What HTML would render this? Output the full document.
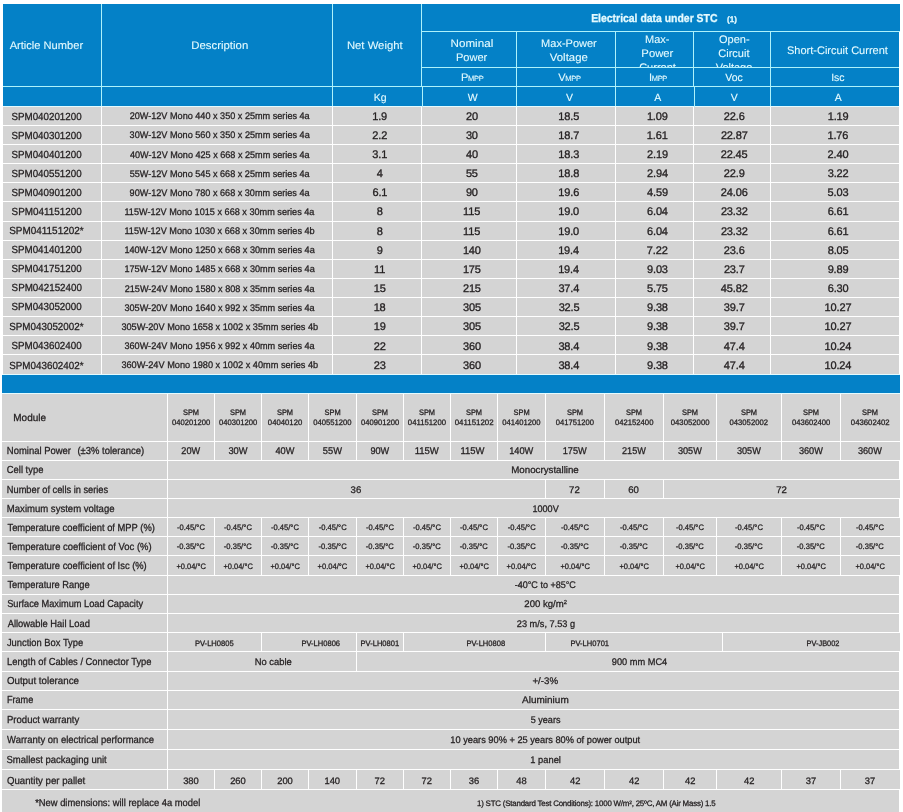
<!DOCTYPE html>
<html lang="en">
<head>
<meta charset="utf-8">
<title>Solar panel specifications</title>
<style>
html,body{margin:0;padding:0;background:#fff}
body{width:903px;height:812px;overflow:hidden;font-family:"Liberation Sans", sans-serif;color:#231f20;text-rendering:geometricPrecision}
#page{position:relative;width:903px;height:812px;overflow:hidden;background:#fff}
.r,.t{position:absolute}
.t{transform-origin:0 0;line-height:20px;white-space:nowrap;-webkit-text-stroke:0.28px currentColor}
.n{-webkit-text-stroke:0.32px currentColor}
.w{-webkit-text-stroke:0.1px currentColor}
.s{-webkit-text-stroke:0.27px currentColor}
.b{-webkit-text-stroke:0.3px currentColor}
.clip{position:absolute;overflow:hidden}
sup{font-size:60%;vertical-align:baseline;position:relative;top:-0.45em;line-height:0}
.sc{font-size:68%}
</style>
</head>
<body>
<div id="page">
<!-- table 1: electrical data under STC -->
<div class="r" style="left:3px;top:4px;width:896px;height:102px;background:#0481c7"></div>
<div class="r" style="left:899px;top:4px;width:1px;height:27px;background:#0481c7"></div>
<div class="r" style="left:3px;top:107px;width:896px;height:267px;background:#d4d4d4"></div>
<div class="r" style="left:2px;top:375px;width:898px;height:18px;background:#0481c7"></div>
<div class="r" style="left:2px;top:394px;width:897px;height:418px;background:#d4d4d4"></div>
<div class="r" style="left:899px;top:394px;width:1px;height:47px;background:#d4d4d4"></div>
<div class="r" style="left:899px;top:442px;width:1px;height:18px;background:#d4d4d4"></div>
<div class="r" style="left:899px;top:480px;width:1px;height:18px;background:#d4d4d4"></div>
<div class="r" style="left:899px;top:518px;width:1px;height:18px;background:#d4d4d4"></div>
<div class="r" style="left:899px;top:537px;width:1px;height:18px;background:#d4d4d4"></div>
<div class="r" style="left:899px;top:556px;width:1px;height:19px;background:#d4d4d4"></div>
<div class="r" style="left:899px;top:633px;width:1px;height:18px;background:#d4d4d4"></div>
<div class="r" style="left:899px;top:770px;width:1px;height:19px;background:#d4d4d4"></div>
<div class="r" style="left:422px;top:31px;width:478px;height:1px;background:#aef2fb"></div>
<div class="r" style="left:422px;top:67px;width:477px;height:1px;background:#aef2fb"></div>
<div class="r" style="left:3px;top:86px;width:896px;height:1px;background:#aef2fb"></div>
<div class="r" style="left:3px;top:106px;width:896px;height:1px;background:#e4fbff"></div>
<div class="r" style="left:3px;top:125px;width:896px;height:1px;background:#fff"></div>
<div class="r" style="left:3px;top:144px;width:896px;height:1px;background:#fff"></div>
<div class="r" style="left:3px;top:163px;width:896px;height:1px;background:#fff"></div>
<div class="r" style="left:3px;top:182px;width:896px;height:1px;background:#fff"></div>
<div class="r" style="left:3px;top:201px;width:896px;height:1px;background:#fff"></div>
<div class="r" style="left:3px;top:221px;width:896px;height:1px;background:#fff"></div>
<div class="r" style="left:3px;top:240px;width:896px;height:1px;background:#fff"></div>
<div class="r" style="left:3px;top:259px;width:896px;height:1px;background:#fff"></div>
<div class="r" style="left:3px;top:278px;width:896px;height:1px;background:#fff"></div>
<div class="r" style="left:3px;top:297px;width:896px;height:1px;background:#fff"></div>
<div class="r" style="left:3px;top:316px;width:896px;height:1px;background:#fff"></div>
<div class="r" style="left:3px;top:335px;width:896px;height:1px;background:#fff"></div>
<div class="r" style="left:3px;top:354px;width:896px;height:1px;background:#fff"></div>
<div class="r" style="left:3px;top:374px;width:897px;height:1px;background:#e4fbff"></div>
<div class="r" style="left:101px;top:4px;width:1px;height:102px;background:#aef2fb"></div>
<div class="r" style="left:101px;top:107px;width:1px;height:267px;background:#fff"></div>
<div class="r" style="left:332px;top:4px;width:1px;height:102px;background:#aef2fb"></div>
<div class="r" style="left:332px;top:107px;width:1px;height:267px;background:#fff"></div>
<div class="r" style="left:421px;top:4px;width:1px;height:82px;background:#aef2fb"></div>
<div class="r" style="left:422px;top:86px;width:1px;height:21px;background:#aef2fb"></div>
<div class="r" style="left:421px;top:107px;width:1px;height:267px;background:#fff"></div>
<div class="r" style="left:516px;top:32px;width:1px;height:74px;background:#aef2fb"></div>
<div class="r" style="left:516px;top:107px;width:1px;height:267px;background:#fff"></div>
<div class="r" style="left:615px;top:32px;width:1px;height:74px;background:#aef2fb"></div>
<div class="r" style="left:615px;top:107px;width:1px;height:267px;background:#fff"></div>
<div class="r" style="left:770px;top:32px;width:1px;height:74px;background:#aef2fb"></div>
<div class="r" style="left:770px;top:107px;width:1px;height:267px;background:#fff"></div>
<div class="r" style="left:693px;top:32px;width:1px;height:54px;background:#aef2fb"></div>
<div class="r" style="left:694px;top:86px;width:1px;height:21px;background:#aef2fb"></div>
<div class="r" style="left:693px;top:107px;width:1px;height:267px;background:#fff"></div>
<div class="r" style="left:2px;top:393px;width:898px;height:1px;background:#e4fbff"></div>
<div class="r" style="left:2px;top:441px;width:897px;height:1px;background:#fff"></div>
<div class="r" style="left:2px;top:460px;width:897px;height:1px;background:#fff"></div>
<div class="r" style="left:2px;top:479px;width:897px;height:1px;background:#fff"></div>
<div class="r" style="left:2px;top:498px;width:897px;height:1px;background:#fff"></div>
<div class="r" style="left:2px;top:517px;width:897px;height:1px;background:#fff"></div>
<div class="r" style="left:2px;top:536px;width:897px;height:1px;background:#fff"></div>
<div class="r" style="left:2px;top:555px;width:897px;height:1px;background:#fff"></div>
<div class="r" style="left:2px;top:575px;width:897px;height:1px;background:#fff"></div>
<div class="r" style="left:2px;top:594px;width:897px;height:1px;background:#fff"></div>
<div class="r" style="left:2px;top:613px;width:897px;height:1px;background:#fff"></div>
<div class="r" style="left:2px;top:632px;width:897px;height:1px;background:#fff"></div>
<div class="r" style="left:2px;top:651px;width:897px;height:1px;background:#fff"></div>
<div class="r" style="left:2px;top:671px;width:897px;height:1px;background:#fff"></div>
<div class="r" style="left:2px;top:690px;width:897px;height:1px;background:#fff"></div>
<div class="r" style="left:2px;top:709px;width:897px;height:1px;background:#fff"></div>
<div class="r" style="left:2px;top:729px;width:897px;height:1px;background:#fff"></div>
<div class="r" style="left:2px;top:749px;width:897px;height:1px;background:#fff"></div>
<div class="r" style="left:2px;top:769px;width:897px;height:1px;background:#fff"></div>
<div class="r" style="left:2px;top:789px;width:897px;height:1px;background:#fff"></div>
<div class="r" style="left:167px;top:394px;width:1px;height:395px;background:#fff"></div>
<div class="r" style="left:214px;top:394px;width:1px;height:66px;background:#fff"></div>
<div class="r" style="left:261px;top:394px;width:1px;height:66px;background:#fff"></div>
<div class="r" style="left:308px;top:394px;width:1px;height:66px;background:#fff"></div>
<div class="r" style="left:356px;top:394px;width:1px;height:66px;background:#fff"></div>
<div class="r" style="left:403px;top:394px;width:1px;height:66px;background:#fff"></div>
<div class="r" style="left:450px;top:394px;width:1px;height:66px;background:#fff"></div>
<div class="r" style="left:497px;top:394px;width:1px;height:66px;background:#fff"></div>
<div class="r" style="left:545px;top:394px;width:1px;height:66px;background:#fff"></div>
<div class="r" style="left:604px;top:394px;width:1px;height:66px;background:#fff"></div>
<div class="r" style="left:663px;top:394px;width:1px;height:66px;background:#fff"></div>
<div class="r" style="left:716px;top:394px;width:1px;height:66px;background:#fff"></div>
<div class="r" style="left:781px;top:394px;width:1px;height:66px;background:#fff"></div>
<div class="r" style="left:840px;top:394px;width:1px;height:66px;background:#fff"></div>
<div class="r" style="left:545px;top:480px;width:1px;height:18px;background:#fff"></div>
<div class="r" style="left:604px;top:480px;width:1px;height:18px;background:#fff"></div>
<div class="r" style="left:663px;top:480px;width:1px;height:18px;background:#fff"></div>
<div class="r" style="left:214px;top:518px;width:1px;height:57px;background:#fff"></div>
<div class="r" style="left:261px;top:518px;width:1px;height:57px;background:#fff"></div>
<div class="r" style="left:308px;top:518px;width:1px;height:57px;background:#fff"></div>
<div class="r" style="left:356px;top:518px;width:1px;height:57px;background:#fff"></div>
<div class="r" style="left:403px;top:518px;width:1px;height:57px;background:#fff"></div>
<div class="r" style="left:450px;top:518px;width:1px;height:57px;background:#fff"></div>
<div class="r" style="left:497px;top:518px;width:1px;height:57px;background:#fff"></div>
<div class="r" style="left:545px;top:518px;width:1px;height:57px;background:#fff"></div>
<div class="r" style="left:604px;top:518px;width:1px;height:57px;background:#fff"></div>
<div class="r" style="left:663px;top:518px;width:1px;height:57px;background:#fff"></div>
<div class="r" style="left:716px;top:518px;width:1px;height:57px;background:#fff"></div>
<div class="r" style="left:781px;top:518px;width:1px;height:57px;background:#fff"></div>
<div class="r" style="left:840px;top:518px;width:1px;height:57px;background:#fff"></div>
<div class="r" style="left:261px;top:633px;width:1px;height:18px;background:#fff"></div>
<div class="r" style="left:356px;top:633px;width:1px;height:18px;background:#fff"></div>
<div class="r" style="left:403px;top:633px;width:1px;height:18px;background:#fff"></div>
<div class="r" style="left:545px;top:633px;width:1px;height:18px;background:#fff"></div>
<div class="r" style="left:722px;top:633px;width:1px;height:18px;background:#fff"></div>
<div class="r" style="left:356px;top:652px;width:1px;height:19px;background:#fff"></div>
<div class="r" style="left:214px;top:770px;width:1px;height:19px;background:#fff"></div>
<div class="r" style="left:261px;top:770px;width:1px;height:19px;background:#fff"></div>
<div class="r" style="left:308px;top:770px;width:1px;height:19px;background:#fff"></div>
<div class="r" style="left:356px;top:770px;width:1px;height:19px;background:#fff"></div>
<div class="r" style="left:403px;top:770px;width:1px;height:19px;background:#fff"></div>
<div class="r" style="left:450px;top:770px;width:1px;height:19px;background:#fff"></div>
<div class="r" style="left:497px;top:770px;width:1px;height:19px;background:#fff"></div>
<div class="r" style="left:545px;top:770px;width:1px;height:19px;background:#fff"></div>
<div class="r" style="left:604px;top:770px;width:1px;height:19px;background:#fff"></div>
<div class="r" style="left:663px;top:770px;width:1px;height:19px;background:#fff"></div>
<div class="r" style="left:716px;top:770px;width:1px;height:19px;background:#fff"></div>
<div class="r" style="left:781px;top:770px;width:1px;height:19px;background:#fff"></div>
<div class="r" style="left:840px;top:770px;width:1px;height:19px;background:#fff"></div>
<div class="t w" style="left:9px;top:36px;font-size:11.0px;color:#e4faff;transform:translateX(0.65px) scaleX(1.0094)">Article Number</div>
<div class="t w" style="left:191px;top:36px;font-size:11.0px;color:#e4faff;transform:translateX(0.29px) scaleX(1.0345)">Description</div>
<div class="t w" style="left:346px;top:36px;font-size:11.0px;color:#e4faff;transform:translateX(0.92px) scaleX(1.0270)">Net Weight</div>
<div class="t b" style="left:591px;top:9px;font-size:11.5px;color:#e4faff;font-weight:bold;transform:translateX(0.16px) scaleX(0.9064)">Electrical data under STC</div>
<div class="t b" style="left:727px;top:10px;font-size:8.0px;color:#e4faff;font-weight:bold;transform:translateX(0.03px) scaleX(1.0037)">(1)</div>
<div class="t w" style="left:450px;top:34px;font-size:11.0px;color:#e4faff;transform:translateX(0.54px) scaleX(1.0577)">Nominal</div>
<div class="t w" style="left:455px;top:48px;font-size:11.0px;color:#e4faff;transform:translateX(0.95px) scaleX(1.0048)">Power</div>
<div class="t w" style="left:541.12px;top:34px;font-size:11.0px;color:#e4faff">Max-Power</div>
<div class="t w" style="left:549px;top:48px;font-size:11.0px;color:#e4faff;transform:translateX(0.80px) scaleX(1.0352)">Voltage</div>
<div class="t w" style="left:787.00px;top:41px;font-size:11.0px;color:#e4faff">Short-Circuit Current</div>
<div class="clip" style="left:616px;top:32px;width:77px;height:35px">
<div class="t w" style="left:29.08px;top:-2px;font-size:11.0px;color:#e4faff">Max-</div>
<div class="t w" style="left:25px;top:12px;font-size:11.0px;color:#e4faff;transform:translateX(0.35px) scaleX(1.0261)">Power</div>
<div class="t w" style="left:23.16px;top:26px;font-size:11.0px;color:#e4faff">Current</div>
</div>
<div class="clip" style="left:694px;top:32px;width:76px;height:35px">
<div class="t w" style="left:24.98px;top:-2px;font-size:11.0px;color:#e4faff">Open-</div>
<div class="t w" style="left:24.27px;top:12px;font-size:11.0px;color:#e4faff">Circuit</div>
<div class="t w" style="left:21.66px;top:26px;font-size:11.0px;color:#e4faff">Voltage</div>
</div>
<div class="t w" style="left:461.00px;top:68px;font-size:11.0px;color:#e4faff;letter-spacing:-0.3px">P<span class="sc">MPP</span></div>
<div class="t w" style="left:558.30px;top:68px;font-size:11.0px;color:#e4faff;letter-spacing:-0.3px">V<span class="sc">MPP</span></div>
<div class="t w" style="left:649.00px;top:68px;font-size:11.0px;color:#e4faff;letter-spacing:-0.3px">I<span class="sc">MPP</span></div>
<div class="t w" style="left:725.25px;top:68px;font-size:10.5px;color:#e4faff">Voc</div>
<div class="t w" style="left:831.13px;top:68px;font-size:10.5px;color:#e4faff">Isc</div>
<div class="t w" style="left:373.86px;top:88px;font-size:10.5px;color:#e4faff">Kg</div>
<div class="t w" style="left:467.81px;top:88px;font-size:10.5px;color:#e4faff">W</div>
<div class="t w" style="left:566.01px;top:88px;font-size:10.5px;color:#e4faff">V</div>
<div class="t w" style="left:654.26px;top:88px;font-size:10.5px;color:#e4faff">A</div>
<div class="t w" style="left:730.79px;top:88px;font-size:10.5px;color:#e4faff">V</div>
<div class="t w" style="left:834.76px;top:88px;font-size:10.5px;color:#e4faff">A</div>
<div class="t" style="left:11px;top:108px;font-size:10.3px;transform:translateX(0.44px) scaleX(0.9497)">SPM040201200</div>
<div class="t" style="left:129px;top:107px;font-size:9.5px;transform:translateX(0.65px) scaleX(0.9586)">20W-12V Mono 440 x 350 x 25mm series 4a</div>
<div class="t n" style="left:372.26px;top:107px;font-size:11.0px;letter-spacing:-0.15px">1.9</div>
<div class="t n" style="left:465.96px;top:107px;font-size:11.0px;letter-spacing:-0.15px">20</div>
<div class="t n" style="left:558.35px;top:107px;font-size:11.0px;letter-spacing:-0.15px">18.5</div>
<div class="t n" style="left:646.88px;top:107px;font-size:11.0px;letter-spacing:-0.15px">1.09</div>
<div class="t n" style="left:723.83px;top:107px;font-size:11.0px;letter-spacing:-0.15px">22.6</div>
<div class="t n" style="left:827.69px;top:107px;font-size:11.0px;letter-spacing:-0.15px">1.19</div>
<div class="t" style="left:11px;top:127px;font-size:10.3px;transform:translateX(0.44px) scaleX(0.9497)">SPM040301200</div>
<div class="t" style="left:129px;top:126px;font-size:9.5px;transform:translateX(0.59px) scaleX(0.9591)">30W-12V Mono 560 x 350 x 25mm series 4a</div>
<div class="t n" style="left:372.28px;top:126px;font-size:11.0px;letter-spacing:-0.15px">2.2</div>
<div class="t n" style="left:465.89px;top:126px;font-size:11.0px;letter-spacing:-0.15px">30</div>
<div class="t n" style="left:558.36px;top:126px;font-size:11.0px;letter-spacing:-0.15px">18.7</div>
<div class="t n" style="left:646.83px;top:126px;font-size:11.0px;letter-spacing:-0.15px">1.61</div>
<div class="t n" style="left:720.89px;top:126px;font-size:11.0px;letter-spacing:-0.15px">22.87</div>
<div class="t n" style="left:827.48px;top:126px;font-size:11.0px;letter-spacing:-0.15px">1.76</div>
<div class="t" style="left:11px;top:146px;font-size:10.3px;transform:translateX(0.44px) scaleX(0.9497)">SPM040401200</div>
<div class="t" style="left:129px;top:146px;font-size:9.5px;transform:translateX(0.99px) scaleX(0.9563)">40W-12V Mono 425 x 668 x 25mm series 4a</div>
<div class="t n" style="left:372.35px;top:145px;font-size:11.0px;letter-spacing:-0.15px">3.1</div>
<div class="t n" style="left:465.97px;top:145px;font-size:11.0px;letter-spacing:-0.15px">40</div>
<div class="t n" style="left:558.34px;top:145px;font-size:11.0px;letter-spacing:-0.15px">18.3</div>
<div class="t n" style="left:647.10px;top:145px;font-size:11.0px;letter-spacing:-0.15px">2.19</div>
<div class="t n" style="left:720.77px;top:145px;font-size:11.0px;letter-spacing:-0.15px">22.45</div>
<div class="t n" style="left:827.57px;top:145px;font-size:11.0px;letter-spacing:-0.15px">2.40</div>
<div class="t" style="left:11px;top:165px;font-size:10.3px;transform:translateX(0.44px) scaleX(0.9497)">SPM040551200</div>
<div class="t" style="left:129px;top:165px;font-size:9.5px;transform:translateX(0.65px) scaleX(0.9581)">55W-12V Mono 545 x 668 x 25mm series 4a</div>
<div class="t n" style="left:376.82px;top:164px;font-size:11.0px;letter-spacing:-0.15px">4</div>
<div class="t n" style="left:465.88px;top:164px;font-size:11.0px;letter-spacing:-0.15px">55</div>
<div class="t n" style="left:558.37px;top:164px;font-size:11.0px;letter-spacing:-0.15px">18.8</div>
<div class="t n" style="left:647.05px;top:164px;font-size:11.0px;letter-spacing:-0.15px">2.94</div>
<div class="t n" style="left:723.80px;top:164px;font-size:11.0px;letter-spacing:-0.15px">22.9</div>
<div class="t n" style="left:827.73px;top:164px;font-size:11.0px;letter-spacing:-0.15px">3.22</div>
<div class="t" style="left:11px;top:184px;font-size:10.3px;transform:translateX(0.44px) scaleX(0.9497)">SPM040901200</div>
<div class="t" style="left:129px;top:184px;font-size:9.5px;transform:translateX(0.58px) scaleX(0.9584)">90W-12V Mono 780 x 668 x 30mm series 4a</div>
<div class="t n" style="left:372.49px;top:183px;font-size:11.0px;letter-spacing:-0.15px">6.1</div>
<div class="t n" style="left:465.90px;top:183px;font-size:11.0px;letter-spacing:-0.15px">90</div>
<div class="t n" style="left:558.36px;top:183px;font-size:11.0px;letter-spacing:-0.15px">19.6</div>
<div class="t n" style="left:647.12px;top:183px;font-size:11.0px;letter-spacing:-0.15px">4.59</div>
<div class="t n" style="left:720.86px;top:183px;font-size:11.0px;letter-spacing:-0.15px">24.06</div>
<div class="t n" style="left:827.61px;top:183px;font-size:11.0px;letter-spacing:-0.15px">5.03</div>
<div class="t" style="left:11px;top:203px;font-size:10.3px;transform:translateX(0.54px) scaleX(0.9597)">SPM041151200</div>
<div class="t" style="left:124px;top:203px;font-size:9.5px;transform:translateX(0.40px) scaleX(0.9611)">115W-12V Mono 1015 x 668 x 30mm series 4a</div>
<div class="t n" style="left:376.75px;top:202px;font-size:11.0px;letter-spacing:-0.15px">8</div>
<div class="t n" style="left:463.12px;top:202px;font-size:11.0px;letter-spacing:-0.15px">115</div>
<div class="t n" style="left:558.28px;top:202px;font-size:11.0px;letter-spacing:-0.15px">19.0</div>
<div class="t n" style="left:647.03px;top:202px;font-size:11.0px;letter-spacing:-0.15px">6.04</div>
<div class="t n" style="left:720.88px;top:202px;font-size:11.0px;letter-spacing:-0.15px">23.32</div>
<div class="t n" style="left:827.63px;top:202px;font-size:11.0px;letter-spacing:-0.15px">6.61</div>
<div class="t" style="left:9px;top:222px;font-size:10.3px;transform:translateX(0.20px) scaleX(0.9655)">SPM041151202*</div>
<div class="t" style="left:124px;top:222px;font-size:9.5px;transform:translateX(0.40px) scaleX(0.9625)">115W-12V Mono 1030 x 668 x 30mm series 4b</div>
<div class="t n" style="left:376.75px;top:222px;font-size:11.0px;letter-spacing:-0.15px">8</div>
<div class="t n" style="left:463.12px;top:222px;font-size:11.0px;letter-spacing:-0.15px">115</div>
<div class="t n" style="left:558.28px;top:222px;font-size:11.0px;letter-spacing:-0.15px">19.0</div>
<div class="t n" style="left:647.03px;top:222px;font-size:11.0px;letter-spacing:-0.15px">6.04</div>
<div class="t n" style="left:720.88px;top:222px;font-size:11.0px;letter-spacing:-0.15px">23.32</div>
<div class="t n" style="left:827.63px;top:222px;font-size:11.0px;letter-spacing:-0.15px">6.61</div>
<div class="t" style="left:11px;top:241px;font-size:10.3px;transform:translateX(0.44px) scaleX(0.9497)">SPM041401200</div>
<div class="t" style="left:124px;top:241px;font-size:9.5px;transform:translateX(0.39px) scaleX(0.9596)">140W-12V Mono 1250 x 668 x 30mm series 4a</div>
<div class="t n" style="left:376.83px;top:241px;font-size:11.0px;letter-spacing:-0.15px">9</div>
<div class="t n" style="left:462.88px;top:241px;font-size:11.0px;letter-spacing:-0.15px">140</div>
<div class="t n" style="left:558.15px;top:241px;font-size:11.0px;letter-spacing:-0.15px">19.4</div>
<div class="t n" style="left:646.87px;top:241px;font-size:11.0px;letter-spacing:-0.15px">7.22</div>
<div class="t n" style="left:723.83px;top:241px;font-size:11.0px;letter-spacing:-0.15px">23.6</div>
<div class="t n" style="left:827.70px;top:241px;font-size:11.0px;letter-spacing:-0.15px">8.05</div>
<div class="t" style="left:11px;top:260px;font-size:10.3px;transform:translateX(0.44px) scaleX(0.9497)">SPM041751200</div>
<div class="t" style="left:124px;top:260px;font-size:9.5px;transform:translateX(0.39px) scaleX(0.9596)">175W-12V Mono 1485 x 668 x 30mm series 4a</div>
<div class="t n" style="left:374.12px;top:260px;font-size:11.0px;letter-spacing:-0.15px">11</div>
<div class="t n" style="left:462.88px;top:260px;font-size:11.0px;letter-spacing:-0.15px">175</div>
<div class="t n" style="left:558.15px;top:260px;font-size:11.0px;letter-spacing:-0.15px">19.4</div>
<div class="t n" style="left:647.04px;top:260px;font-size:11.0px;letter-spacing:-0.15px">9.03</div>
<div class="t n" style="left:723.89px;top:260px;font-size:11.0px;letter-spacing:-0.15px">23.7</div>
<div class="t n" style="left:827.67px;top:260px;font-size:11.0px;letter-spacing:-0.15px">9.89</div>
<div class="t" style="left:11px;top:279px;font-size:10.3px;transform:translateX(0.59px) scaleX(0.9517)">SPM042152400</div>
<div class="t" style="left:124px;top:280px;font-size:9.5px;transform:translateX(0.75px) scaleX(0.9572)">215W-24V Mono 1580 x 808 x 35mm series 4a</div>
<div class="t n" style="left:373.71px;top:279px;font-size:11.0px;letter-spacing:-0.15px">15</div>
<div class="t n" style="left:462.95px;top:279px;font-size:11.0px;letter-spacing:-0.15px">215</div>
<div class="t n" style="left:558.38px;top:279px;font-size:11.0px;letter-spacing:-0.15px">37.4</div>
<div class="t n" style="left:647.03px;top:279px;font-size:11.0px;letter-spacing:-0.15px">5.75</div>
<div class="t n" style="left:720.87px;top:279px;font-size:11.0px;letter-spacing:-0.15px">45.82</div>
<div class="t n" style="left:827.74px;top:279px;font-size:11.0px;letter-spacing:-0.15px">6.30</div>
<div class="t" style="left:11px;top:298px;font-size:10.3px;transform:translateX(0.44px) scaleX(0.9501)">SPM043052000</div>
<div class="t" style="left:124px;top:299px;font-size:9.5px;transform:translateX(0.49px) scaleX(0.9587)">305W-20V Mono 1640 x 992 x 35mm series 4a</div>
<div class="t n" style="left:373.66px;top:298px;font-size:11.0px;letter-spacing:-0.15px">18</div>
<div class="t n" style="left:462.99px;top:298px;font-size:11.0px;letter-spacing:-0.15px">305</div>
<div class="t n" style="left:558.63px;top:298px;font-size:11.0px;letter-spacing:-0.15px">32.5</div>
<div class="t n" style="left:647.04px;top:298px;font-size:11.0px;letter-spacing:-0.15px">9.38</div>
<div class="t n" style="left:723.87px;top:298px;font-size:11.0px;letter-spacing:-0.15px">39.7</div>
<div class="t n" style="left:824.61px;top:298px;font-size:11.0px;letter-spacing:-0.15px">10.27</div>
<div class="t" style="left:9px;top:318px;font-size:10.3px;transform:translateX(0.24px) scaleX(0.9542)">SPM043052002*</div>
<div class="t" style="left:121px;top:318px;font-size:9.5px;transform:translateX(0.39px) scaleX(0.9662)">305W-20V Mono 1658 x 1002 x 35mm series 4b</div>
<div class="t n" style="left:373.69px;top:317px;font-size:11.0px;letter-spacing:-0.15px">19</div>
<div class="t n" style="left:462.99px;top:317px;font-size:11.0px;letter-spacing:-0.15px">305</div>
<div class="t n" style="left:558.63px;top:317px;font-size:11.0px;letter-spacing:-0.15px">32.5</div>
<div class="t n" style="left:647.04px;top:317px;font-size:11.0px;letter-spacing:-0.15px">9.38</div>
<div class="t n" style="left:723.87px;top:317px;font-size:11.0px;letter-spacing:-0.15px">39.7</div>
<div class="t n" style="left:824.61px;top:317px;font-size:11.0px;letter-spacing:-0.15px">10.27</div>
<div class="t" style="left:11px;top:337px;font-size:10.3px;transform:translateX(0.44px) scaleX(0.9501)">SPM043602400</div>
<div class="t" style="left:124px;top:337px;font-size:9.5px;transform:translateX(0.49px) scaleX(0.9587)">360W-24V Mono 1956 x 992 x 40mm series 4a</div>
<div class="t n" style="left:373.86px;top:337px;font-size:11.0px;letter-spacing:-0.15px">22</div>
<div class="t n" style="left:462.97px;top:337px;font-size:11.0px;letter-spacing:-0.15px">360</div>
<div class="t n" style="left:558.38px;top:337px;font-size:11.0px;letter-spacing:-0.15px">38.4</div>
<div class="t n" style="left:647.04px;top:337px;font-size:11.0px;letter-spacing:-0.15px">9.38</div>
<div class="t n" style="left:723.81px;top:337px;font-size:11.0px;letter-spacing:-0.15px">47.4</div>
<div class="t n" style="left:824.52px;top:337px;font-size:11.0px;letter-spacing:-0.15px">10.24</div>
<div class="t" style="left:9px;top:357px;font-size:10.3px;transform:translateX(0.24px) scaleX(0.9542)">SPM043602402*</div>
<div class="t" style="left:121px;top:356px;font-size:9.5px;transform:translateX(0.39px) scaleX(0.9662)">360W-24V Mono 1980 x 1002 x 40mm series 4b</div>
<div class="t n" style="left:373.86px;top:356px;font-size:11.0px;letter-spacing:-0.15px">23</div>
<div class="t n" style="left:462.97px;top:356px;font-size:11.0px;letter-spacing:-0.15px">360</div>
<div class="t n" style="left:558.38px;top:356px;font-size:11.0px;letter-spacing:-0.15px">38.4</div>
<div class="t n" style="left:647.04px;top:356px;font-size:11.0px;letter-spacing:-0.15px">9.38</div>
<div class="t n" style="left:723.81px;top:356px;font-size:11.0px;letter-spacing:-0.15px">47.4</div>
<div class="t n" style="left:824.52px;top:356px;font-size:11.0px;letter-spacing:-0.15px">10.24</div>
<!-- table 2: module specifications -->
<div class="t" style="left:13px;top:409px;font-size:10.2px;transform:translateX(0.31px) scaleX(0.9782)">Module</div>
<div class="t" style="left:6px;top:442px;font-size:10.2px;transform:translateX(0.87px) scaleX(0.9281)">Nominal Power</div>
<div class="t" style="left:77px;top:442px;font-size:10.2px;transform:translateX(0.39px) scaleX(0.9288)">(±3% tolerance)</div>
<div class="t" style="left:6px;top:461px;font-size:10.2px;transform:translateX(0.81px) scaleX(0.9221)">Cell type</div>
<div class="t" style="left:6px;top:481px;font-size:10.2px;transform:translateX(0.81px) scaleX(0.9084)">Number of cells in series</div>
<div class="t" style="left:6px;top:500px;font-size:10.2px;transform:translateX(0.85px) scaleX(0.9371)">Maximum system voltage</div>
<div class="t" style="left:7px;top:519px;font-size:10.2px;transform:translateX(0.46px) scaleX(0.9185)">Temperature coefficient of MPP (%)</div>
<div class="t" style="left:7px;top:538px;font-size:10.2px;transform:translateX(0.38px) scaleX(0.9271)">Temperature coefficient of Voc (%)</div>
<div class="t" style="left:7px;top:557px;font-size:10.2px;transform:translateX(0.49px) scaleX(0.9188)">Temperature coefficient of Isc (%)</div>
<div class="t" style="left:7px;top:576px;font-size:10.2px;transform:translateX(0.43px) scaleX(0.9140)">Temperature Range</div>
<div class="t" style="left:7px;top:595px;font-size:10.2px;transform:translateX(0.13px) scaleX(0.9061)">Surface Maximum Load Capacity</div>
<div class="t" style="left:7px;top:615px;font-size:10.2px;transform:translateX(0.63px) scaleX(0.9194)">Allowable Hail Load</div>
<div class="t" style="left:6px;top:634px;font-size:10.2px;transform:translateX(0.94px) scaleX(0.9179)">Junction Box Type</div>
<div class="t" style="left:6px;top:653px;font-size:10.2px;transform:translateX(0.97px) scaleX(0.9193)">Length of Cables / Connector Type</div>
<div class="t" style="left:6px;top:672px;font-size:10.2px;transform:translateX(0.92px) scaleX(0.9558)">Output tolerance</div>
<div class="t" style="left:6px;top:691px;font-size:10.2px;transform:translateX(0.91px) scaleX(0.8936)">Frame</div>
<div class="t" style="left:6px;top:711px;font-size:10.2px;transform:translateX(0.99px) scaleX(0.9379)">Product warranty</div>
<div class="t" style="left:7px;top:731px;font-size:10.2px;transform:translateX(0.12px) scaleX(0.9289)">Warranty on electrical performance</div>
<div class="t" style="left:6px;top:751px;font-size:10.2px;transform:translateX(0.54px) scaleX(0.9307)">Smallest packaging unit</div>
<div class="t" style="left:6px;top:772px;font-size:10.2px;transform:translateX(0.98px) scaleX(0.9463)">Quantity per pallet</div>
<div class="t s" style="left:182px;top:403px;font-size:7.9px;transform:translateX(0.92px) scaleX(0.9429)">SPM</div>
<div class="t s" style="left:171px;top:413px;font-size:7.9px;transform:translateX(0.95px) scaleX(0.9696)">040201200</div>
<div class="t s" style="left:229px;top:403px;font-size:7.9px;transform:translateX(0.92px) scaleX(0.9429)">SPM</div>
<div class="t s" style="left:218px;top:413px;font-size:7.9px;transform:translateX(0.92px) scaleX(0.9701)">040301200</div>
<div class="t s" style="left:276px;top:403px;font-size:7.9px;transform:translateX(0.92px) scaleX(0.9429)">SPM</div>
<div class="t s" style="left:267px;top:413px;font-size:7.9px;transform:translateX(0.86px) scaleX(0.9802)">04040120</div>
<div class="t s" style="left:324px;top:403px;font-size:7.9px;transform:translateX(0.58px) scaleX(0.9459)">SPM</div>
<div class="t s" style="left:313px;top:413px;font-size:7.9px;transform:translateX(0.31px) scaleX(0.9696)">040551200</div>
<div class="t s" style="left:371px;top:403px;font-size:7.9px;transform:translateX(0.92px) scaleX(0.9429)">SPM</div>
<div class="t s" style="left:360px;top:413px;font-size:7.9px;transform:translateX(0.92px) scaleX(0.9701)">040901200</div>
<div class="t s" style="left:418px;top:403px;font-size:7.9px;transform:translateX(0.92px) scaleX(0.9429)">SPM</div>
<div class="t s" style="left:407px;top:413px;font-size:7.9px;transform:translateX(0.82px) scaleX(0.9826)">041151200</div>
<div class="t s" style="left:465px;top:403px;font-size:7.9px;transform:translateX(0.92px) scaleX(0.9429)">SPM</div>
<div class="t s" style="left:454.73px;top:413px;font-size:7.9px">041151202</div>
<div class="t s" style="left:513px;top:403px;font-size:7.9px;transform:translateX(0.58px) scaleX(0.9459)">SPM</div>
<div class="t s" style="left:502px;top:413px;font-size:7.9px;transform:translateX(0.28px) scaleX(0.9701)">041401200</div>
<div class="t s" style="left:566px;top:403px;font-size:7.9px;transform:translateX(0.92px) scaleX(0.9429)">SPM</div>
<div class="t s" style="left:555px;top:413px;font-size:7.9px;transform:translateX(0.82px) scaleX(0.9635)">041751200</div>
<div class="t s" style="left:625px;top:403px;font-size:7.9px;transform:translateX(0.92px) scaleX(0.9429)">SPM</div>
<div class="t s" style="left:614px;top:413px;font-size:7.9px;transform:translateX(0.89px) scaleX(0.9760)">042152400</div>
<div class="t s" style="left:681px;top:403px;font-size:7.9px;transform:translateX(0.92px) scaleX(0.9429)">SPM</div>
<div class="t s" style="left:670px;top:413px;font-size:7.9px;transform:translateX(0.75px) scaleX(0.9813)">043052000</div>
<div class="t s" style="left:740px;top:403px;font-size:7.9px;transform:translateX(0.92px) scaleX(0.9429)">SPM</div>
<div class="t s" style="left:729px;top:413px;font-size:7.9px;transform:translateX(0.51px) scaleX(0.9748)">043052002</div>
<div class="t s" style="left:802px;top:403px;font-size:7.9px;transform:translateX(0.92px) scaleX(0.9429)">SPM</div>
<div class="t s" style="left:791px;top:413px;font-size:7.9px;transform:translateX(0.96px) scaleX(0.9674)">043602400</div>
<div class="t s" style="left:861px;top:403px;font-size:7.9px;transform:translateX(0.92px) scaleX(0.9429)">SPM</div>
<div class="t s" style="left:850px;top:413px;font-size:7.9px;transform:translateX(0.87px) scaleX(0.9822)">043602402</div>
<div class="t" style="left:181px;top:442px;font-size:9.7px;transform:translateX(0.37px) scaleX(0.9433)">20W</div>
<div class="t" style="left:228px;top:442px;font-size:9.7px;transform:translateX(0.41px) scaleX(0.9576)">30W</div>
<div class="t" style="left:275px;top:442px;font-size:9.7px;transform:translateX(0.49px) scaleX(0.9482)">40W</div>
<div class="t" style="left:322px;top:442px;font-size:9.7px;transform:translateX(0.80px) scaleX(0.9613)">55W</div>
<div class="t" style="left:370px;top:442px;font-size:9.7px;transform:translateX(0.43px) scaleX(0.9432)">90W</div>
<div class="t" style="left:414px;top:442px;font-size:9.7px;transform:translateX(0.65px) scaleX(0.9841)">115W</div>
<div class="t" style="left:460px;top:442px;font-size:9.7px;transform:translateX(0.44px) scaleX(0.9754)">115W</div>
<div class="t" style="left:509px;top:442px;font-size:9.7px;transform:translateX(0.14px) scaleX(0.9559)">140W</div>
<div class="t" style="left:562px;top:442px;font-size:9.7px;transform:translateX(0.64px) scaleX(0.9543)">175W</div>
<div class="t" style="left:621px;top:442px;font-size:9.7px;transform:translateX(0.96px) scaleX(0.9436)">215W</div>
<div class="t" style="left:677px;top:442px;font-size:9.7px;transform:translateX(0.93px) scaleX(0.9442)">305W</div>
<div class="t" style="left:736px;top:442px;font-size:9.7px;transform:translateX(0.93px) scaleX(0.9442)">305W</div>
<div class="t" style="left:798px;top:442px;font-size:9.7px;transform:translateX(0.94px) scaleX(0.9442)">360W</div>
<div class="t" style="left:857px;top:442px;font-size:9.7px;transform:translateX(0.94px) scaleX(0.9442)">360W</div>
<div class="t" style="left:511px;top:461px;font-size:9.6px;transform:translateX(0.23px) scaleX(1.0135)">Monocrystalline</div>
<div class="t" style="left:350.57px;top:481px;font-size:9.6px">36</div>
<div class="t" style="left:569.12px;top:481px;font-size:9.6px">72</div>
<div class="t" style="left:628.29px;top:481px;font-size:9.6px">60</div>
<div class="t" style="left:776.26px;top:481px;font-size:9.6px">72</div>
<div class="t" style="left:532px;top:500px;font-size:9.6px;transform:translateX(0.44px) scaleX(0.9459)">1000V</div>
<div class="t s" style="left:176px;top:518px;font-size:7.9px;transform:translateX(0.94px) scaleX(0.9629)">-0.45/°C</div>
<div class="t s" style="left:176px;top:537px;font-size:7.9px;transform:translateX(0.79px) scaleX(0.9624)">-0.35/°C</div>
<div class="t s" style="left:176px;top:557px;font-size:7.9px;transform:translateX(0.38px) scaleX(0.9497)">+0.04/°C</div>
<div class="t s" style="left:223px;top:518px;font-size:7.9px;transform:translateX(0.94px) scaleX(0.9629)">-0.45/°C</div>
<div class="t s" style="left:223px;top:537px;font-size:7.9px;transform:translateX(0.79px) scaleX(0.9624)">-0.35/°C</div>
<div class="t s" style="left:223px;top:557px;font-size:7.9px;transform:translateX(0.38px) scaleX(0.9497)">+0.04/°C</div>
<div class="t s" style="left:270px;top:518px;font-size:7.9px;transform:translateX(0.94px) scaleX(0.9629)">-0.45/°C</div>
<div class="t s" style="left:270px;top:537px;font-size:7.9px;transform:translateX(0.79px) scaleX(0.9624)">-0.35/°C</div>
<div class="t s" style="left:270px;top:557px;font-size:7.9px;transform:translateX(0.38px) scaleX(0.9497)">+0.04/°C</div>
<div class="t s" style="left:318px;top:518px;font-size:7.9px;transform:translateX(0.78px) scaleX(0.9586)">-0.45/°C</div>
<div class="t s" style="left:318px;top:537px;font-size:7.9px;transform:translateX(0.57px) scaleX(0.9679)">-0.35/°C</div>
<div class="t s" style="left:317px;top:557px;font-size:7.9px;transform:translateX(0.60px) scaleX(0.9564)">+0.04/°C</div>
<div class="t s" style="left:365px;top:518px;font-size:7.9px;transform:translateX(0.94px) scaleX(0.9629)">-0.45/°C</div>
<div class="t s" style="left:365px;top:537px;font-size:7.9px;transform:translateX(0.79px) scaleX(0.9624)">-0.35/°C</div>
<div class="t s" style="left:365px;top:557px;font-size:7.9px;transform:translateX(0.38px) scaleX(0.9497)">+0.04/°C</div>
<div class="t s" style="left:412px;top:518px;font-size:7.9px;transform:translateX(0.94px) scaleX(0.9629)">-0.45/°C</div>
<div class="t s" style="left:412px;top:537px;font-size:7.9px;transform:translateX(0.79px) scaleX(0.9624)">-0.35/°C</div>
<div class="t s" style="left:412px;top:557px;font-size:7.9px;transform:translateX(0.38px) scaleX(0.9497)">+0.04/°C</div>
<div class="t s" style="left:459px;top:518px;font-size:7.9px;transform:translateX(0.94px) scaleX(0.9629)">-0.45/°C</div>
<div class="t s" style="left:459px;top:537px;font-size:7.9px;transform:translateX(0.79px) scaleX(0.9624)">-0.35/°C</div>
<div class="t s" style="left:459px;top:557px;font-size:7.9px;transform:translateX(0.38px) scaleX(0.9497)">+0.04/°C</div>
<div class="t s" style="left:507px;top:518px;font-size:7.9px;transform:translateX(0.78px) scaleX(0.9586)">-0.45/°C</div>
<div class="t s" style="left:507px;top:537px;font-size:7.9px;transform:translateX(0.57px) scaleX(0.9679)">-0.35/°C</div>
<div class="t s" style="left:506px;top:557px;font-size:7.9px;transform:translateX(0.60px) scaleX(0.9564)">+0.04/°C</div>
<div class="t s" style="left:560px;top:518px;font-size:7.9px;transform:translateX(0.94px) scaleX(0.9629)">-0.45/°C</div>
<div class="t s" style="left:560px;top:537px;font-size:7.9px;transform:translateX(0.79px) scaleX(0.9624)">-0.35/°C</div>
<div class="t s" style="left:560px;top:557px;font-size:7.9px;transform:translateX(0.38px) scaleX(0.9497)">+0.04/°C</div>
<div class="t s" style="left:619px;top:518px;font-size:7.9px;transform:translateX(0.94px) scaleX(0.9629)">-0.45/°C</div>
<div class="t s" style="left:619px;top:537px;font-size:7.9px;transform:translateX(0.79px) scaleX(0.9624)">-0.35/°C</div>
<div class="t s" style="left:619px;top:557px;font-size:7.9px;transform:translateX(0.38px) scaleX(0.9497)">+0.04/°C</div>
<div class="t s" style="left:675px;top:518px;font-size:7.9px;transform:translateX(0.94px) scaleX(0.9629)">-0.45/°C</div>
<div class="t s" style="left:675px;top:537px;font-size:7.9px;transform:translateX(0.79px) scaleX(0.9624)">-0.35/°C</div>
<div class="t s" style="left:675px;top:557px;font-size:7.9px;transform:translateX(0.38px) scaleX(0.9497)">+0.04/°C</div>
<div class="t s" style="left:734px;top:518px;font-size:7.9px;transform:translateX(0.94px) scaleX(0.9629)">-0.45/°C</div>
<div class="t s" style="left:734px;top:537px;font-size:7.9px;transform:translateX(0.79px) scaleX(0.9624)">-0.35/°C</div>
<div class="t s" style="left:734px;top:557px;font-size:7.9px;transform:translateX(0.38px) scaleX(0.9497)">+0.04/°C</div>
<div class="t s" style="left:796px;top:518px;font-size:7.9px;transform:translateX(0.94px) scaleX(0.9629)">-0.45/°C</div>
<div class="t s" style="left:796px;top:537px;font-size:7.9px;transform:translateX(0.79px) scaleX(0.9624)">-0.35/°C</div>
<div class="t s" style="left:796px;top:557px;font-size:7.9px;transform:translateX(0.38px) scaleX(0.9497)">+0.04/°C</div>
<div class="t s" style="left:855px;top:518px;font-size:7.9px;transform:translateX(0.94px) scaleX(0.9629)">-0.45/°C</div>
<div class="t s" style="left:855px;top:537px;font-size:7.9px;transform:translateX(0.79px) scaleX(0.9624)">-0.35/°C</div>
<div class="t s" style="left:855px;top:557px;font-size:7.9px;transform:translateX(0.38px) scaleX(0.9497)">+0.04/°C</div>
<div class="t" style="left:514px;top:576px;font-size:9.6px;transform:translateX(0.71px) scaleX(0.9406)">-40°C to +85°C</div>
<div class="t" style="left:524.30px;top:595px;font-size:9.6px">200 kg/m<sup>2</sup></div>
<div class="t" style="left:516px;top:615px;font-size:9.6px;transform:translateX(0.83px) scaleX(0.9576)">23 m/s, 7.53 g</div>
<div class="t s" style="left:194px;top:634px;font-size:7.9px;transform:translateX(0.92px) scaleX(0.9604)">PV-LH0805</div>
<div class="t s" style="left:301px;top:634px;font-size:7.9px;transform:translateX(0.45px) scaleX(0.9568)">PV-LH0806</div>
<div class="t s" style="left:360px;top:634px;font-size:7.9px;transform:translateX(0.55px) scaleX(0.9570)">PV-LH0801</div>
<div class="t s" style="left:466px;top:634px;font-size:7.9px;transform:translateX(0.45px) scaleX(0.9578)">PV-LH0808</div>
<div class="t s" style="left:570px;top:634px;font-size:7.9px;transform:translateX(0.44px) scaleX(0.9573)">PV-LH0701</div>
<div class="t s" style="left:806px;top:634px;font-size:7.9px;transform:translateX(0.52px) scaleX(0.9387)">PV-JB002</div>
<div class="t" style="left:254px;top:653px;font-size:9.6px;transform:translateX(0.80px) scaleX(0.9754)">No cable</div>
<div class="t" style="left:611px;top:653px;font-size:9.6px;transform:translateX(0.84px) scaleX(0.9609)">900 mm MC4</div>
<div class="t" style="left:532px;top:672px;font-size:9.6px;transform:translateX(0.43px) scaleX(1.0128)">+/-3%</div>
<div class="t" style="left:522px;top:691px;font-size:9.6px;transform:translateX(0.12px) scaleX(1.0401)">Aluminium</div>
<div class="t" style="left:530px;top:711px;font-size:9.6px;transform:translateX(0.70px) scaleX(0.9454)">5 years</div>
<div class="t" style="left:450px;top:731px;font-size:9.6px;transform:translateX(0.36px) scaleX(0.9632)">10 years 90% + 25 years 80% of power output</div>
<div class="t" style="left:530px;top:751px;font-size:9.6px;transform:translateX(0.34px) scaleX(0.9711)">1 panel</div>
<div class="t" style="left:183.13px;top:771px;font-size:9.4px">380</div>
<div class="t" style="left:230.16px;top:771px;font-size:9.4px">260</div>
<div class="t" style="left:277.19px;top:771px;font-size:9.4px">200</div>
<div class="t" style="left:324.43px;top:771px;font-size:9.4px">140</div>
<div class="t" style="left:374.61px;top:771px;font-size:9.4px">72</div>
<div class="t" style="left:421.61px;top:771px;font-size:9.4px">72</div>
<div class="t" style="left:468.70px;top:771px;font-size:9.4px">36</div>
<div class="t" style="left:516.36px;top:771px;font-size:9.4px">48</div>
<div class="t" style="left:570.02px;top:771px;font-size:9.4px">42</div>
<div class="t" style="left:629.02px;top:771px;font-size:9.4px">42</div>
<div class="t" style="left:685.02px;top:771px;font-size:9.4px">42</div>
<div class="t" style="left:744.02px;top:771px;font-size:9.4px">42</div>
<div class="t" style="left:805.80px;top:771px;font-size:9.4px">37</div>
<div class="t" style="left:864.80px;top:771px;font-size:9.4px">37</div>
<div class="t" style="left:35px;top:794px;font-size:10.0px;transform:translateX(0.16px) scaleX(0.9371)">*New dimensions: will replace 4a model</div>
<div class="t s" style="left:477.00px;top:794px;font-size:7.9px;letter-spacing:-0.2px">1) STC (Standard Test Conditions): 1000 W/m<sup>2</sup>, 25ºC, AM (Air Mass) 1.5</div>
</div>
</body>
</html>
